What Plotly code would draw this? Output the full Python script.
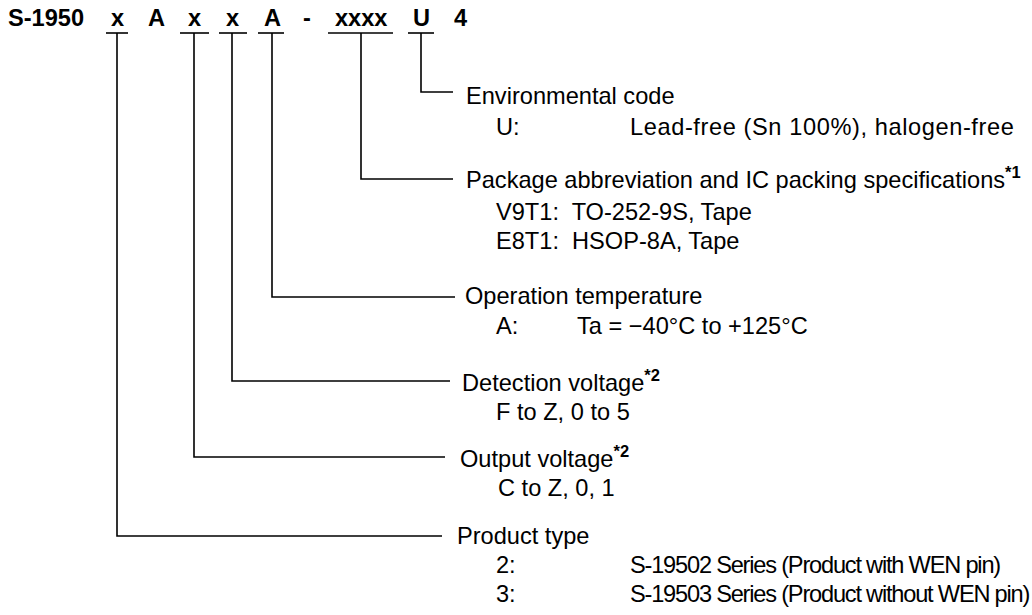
import json
import plotly.graph_objects as go

# ---------------- data ----------------
code_segments = ["S-1950", "x", "A", "x", "x", "A", "-", "xxxx", "U", "4"]
field_segment = [8, 7, 5, 4, 3, 1]          # which code segment each field describes
field_titles = [
    "Environmental code",
    "Package abbreviation and IC packing specifications",
    "Operation temperature",
    "Detection voltage",
    "Output voltage",
    "Product type",
]
field_notes = ["", "*1", "", "*2", "*2", ""]
field_codes = [
    ["U:"],
    ["V9T1:  TO-252-9S, Tape", "E8T1:  HSOP-8A, Tape"],
    ["A:"],
    ["F to Z, 0 to 5"],
    ["C to Z, 0, 1"],
    ["2:", "3:"],
]
field_values = [
    ["Lead-free (Sn 100%), halogen-free"],
    ["", ""],
    ["Ta = \u221240\u00b0C to +125\u00b0C"],
    [""],
    [""],
    ["S-19502 Series (Product with WEN pin)", "S-19503 Series (Product without WEN pin)"],
]

# ---------------- layout constants ----------------
W, H = 1032, 615
FONT = "Arial, Liberation Sans, sans-serif"
FS = 23.6
PAD = 3  # annotation inner padding, subtracted so text starts where intended
seg_x = [9, 117, 156, 194, 232, 272, 307, 361, 421, 460]       # centre (first: left edge)
seg_ul = [None, (106, 128), None, (180, 209), (219, 247), (258, 284), None, (328, 393), (408, 434), None]
header_y = 18
ul_y = 33
corner_y = [92, 179, 297, 381, 457, 536]
hline_end = [453, 453, 455, 450, 445, 442]
label_x = [467, 467, 466, 463, 461, 458]
title_y = [96, 178, 296, 381, 457, 536]
rows_y = [[127], [212, 241], [326], [412], [488], [565, 594]]
code_x = [497, 497, 497, 497, 499, 497]
value_x = [631, 631, 578, 631, 631, 631]
value_tracking = [[0.6], [0, 0], [0], [0], [0], [-1.2, -1.2]]   # letter spacing, px
LW = 1.6

fig = go.Figure()
shapes = []
annotations = []
tracking = {}


def txt(x, y, s, xanchor="left", size=FS):
    annotations.append(dict(
        x=x - PAD if xanchor == "left" else x, y=y, text=s, showarrow=False,
        xanchor=xanchor, yanchor="middle",
        font=dict(family=FONT, size=size, color="black"),
    ))


# header
for i, seg in enumerate(code_segments):
    txt(seg_x[i], header_y, f"<b>{seg}</b>", "left" if i == 0 else "center")
    if seg_ul[i] is not None:
        shapes.append(dict(type="line", x0=seg_ul[i][0], x1=seg_ul[i][1], y0=ul_y, y1=ul_y,
                           line=dict(color="black", width=LW)))

# fields
for k, seg_i in enumerate(field_segment):
    xv = seg_x[seg_i]
    cy = corner_y[k]
    shapes.append(dict(type="path",
                       path=f"M {xv},{ul_y} L {xv},{cy} L {hline_end[k]},{cy}",
                       line=dict(color="black", width=LW)))
    title = field_titles[k]
    if field_notes[k]:
        title += f"<sup><b>{field_notes[k]}</b></sup>"
    txt(label_x[k], title_y[k], title)
    for j, code in enumerate(field_codes[k]):
        yy = rows_y[k][j]
        txt(code_x[k], yy, code)
        val = field_values[k][j]
        if val:
            txt(value_x[k], yy, val)
            if value_tracking[k][j]:
                tracking[val] = value_tracking[k][j]

fig.update_layout(
    width=W, height=H,
    margin=dict(l=0, r=0, t=0, b=0),
    paper_bgcolor="white", plot_bgcolor="white",
    xaxis=dict(range=[0, W], visible=False, fixedrange=True),
    yaxis=dict(range=[H, 0], visible=False, fixedrange=True),
    shapes=shapes, annotations=annotations,
    showlegend=False,
)

js = """
document.body.style.margin='0';
document.body.style.overflow='hidden';
var TRACK = %s;
function applyTracking(){
  document.querySelectorAll('text.annotation-text').forEach(function(t){
    var v = TRACK[t.textContent];
    if (v === undefined || t.getAttribute('data-tracked') === '1') { return; }
    var b = t.getBBox();
    t.setAttribute('text-anchor', 'start');
    t.setAttribute('x', b.x);
    t.style.letterSpacing = v + 'px';
    t.setAttribute('data-tracked', '1');
  });
}
applyTracking();
var gd = document.getElementById('{plot_id}');
if (gd && gd.on) { gd.on('plotly_afterplot', applyTracking); }
setTimeout(applyTracking, 50);
setTimeout(applyTracking, 300);
""" % json.dumps(tracking)

fig.write_html(
    "out.html",
    config={"displayModeBar": False},
    post_script=js,
)
